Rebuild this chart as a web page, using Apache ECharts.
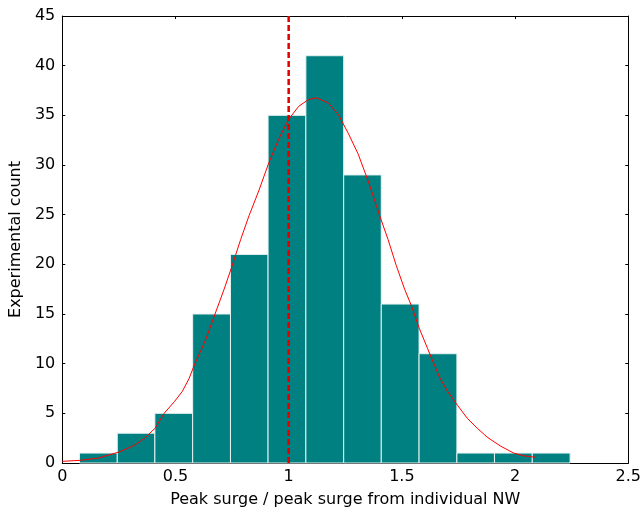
<!DOCTYPE html>
<html>
<head>
<meta charset="utf-8">
<script src="https://cdn.jsdelivr.net/npm/echarts@6/dist/echarts.min.js"></script>
<style>html,body{margin:0;padding:0;background:#fff;}#c{width:644px;height:513px;}</style>
</head>
<body>
<div id="c"></div>
<script>
// Histogram bin edges (ratio) and counts
var binEdges = [0.076, 0.243, 0.409, 0.576, 0.743, 0.909, 1.076, 1.243, 1.409, 1.576, 1.743, 1.909, 2.076, 2.243];
var binCounts = [1, 3, 5, 15, 21, 35, 41, 29, 16, 11, 1, 1, 1];
// Fitted distribution curve [x, count]
var fitX = [0, 0.08, 0.16, 0.25, 0.32, 0.364, 0.41, 0.45, 0.496, 0.53, 0.56, 0.583, 0.635, 0.678, 0.715, 0.751, 0.788, 0.825, 0.868, 0.912, 0.956, 1.0, 1.044, 1.088, 1.124, 1.175, 1.219, 1.263, 1.307, 1.351, 1.402, 1.439, 1.475, 1.512, 1.541, 1.578, 1.614, 1.665, 1.702, 1.746, 1.789, 1.833, 1.877, 1.936, 1.994, 2.038, 2.089];
var fitY = [0.17, 0.27, 0.5, 1.1, 1.8, 2.5, 3.5, 5.0, 6.2, 7.2, 8.5, 9.85, 12.5, 15.2, 17.5, 19.9, 22.5, 24.9, 27.4, 30.2, 32.6, 34.6, 35.9, 36.6, 36.75, 36.25, 35.1, 33.2, 31.1, 28.4, 24.9, 22.5, 19.9, 17.5, 15.9, 13.5, 11.5, 8.7, 7.2, 5.8, 4.5, 3.5, 2.6, 1.7, 1.0, 0.73, 0.57];
// Reference line
var refX = 1;
var xTicks = [0, 0.5, 1, 1.5, 2, 2.5];
var yTicks = [0, 5, 10, 15, 20, 25, 30, 35, 40, 45];

var histData = binCounts.map(function (c, i) { return [binEdges[i], binEdges[i + 1], c]; });
var fitData = fitX.map(function (x, i) { return [x, fitY[i]]; });

var FONT = 'DejaVu Sans';
var chart = echarts.init(document.getElementById('c'), null, { renderer: 'canvas' });
var axisCommon = {
  type: 'value',
  axisLine: { show: true, onZero: false, lineStyle: { color: '#000', width: 1 } },
  axisTick: { show: true, inside: true, length: 3, lineStyle: { color: '#000' } },
  splitLine: { show: false }
};
chart.setOption({
  animation: false,
  backgroundColor: '#fff',
  grid: { left: 62, top: 16, width: 570, height: 449, containLabel: false },
  xAxis: [
    Object.assign({}, axisCommon, {
      min: 0, max: 2.5, interval: 0.5, position: 'bottom',
      axisLabel: { color: '#000', fontFamily: FONT, fontSize: 16, margin: 6 },
      name: 'Peak surge / peak surge from individual NW',
      nameLocation: 'middle', nameGap: 29,
      nameTextStyle: { color: '#000', fontFamily: FONT, fontSize: 16 }
    }),
    Object.assign({}, axisCommon, {
      min: 0, max: 2.5, interval: 0.5, position: 'top',
      axisLabel: { show: false }
    })
  ],
  yAxis: [
    Object.assign({}, axisCommon, {
      min: 0, max: 45, interval: 5, position: 'left',
      axisLabel: { color: '#000', fontFamily: FONT, fontSize: 16, margin: 7 },
      name: 'Experimental count',
      nameLocation: 'middle', nameGap: 34,
      nameTextStyle: { color: '#000', fontFamily: FONT, fontSize: 16 }
    }),
    Object.assign({}, axisCommon, {
      min: 0, max: 45, interval: 5, position: 'right',
      axisLabel: { show: false }
    })
  ],
  series: [
    {
      type: 'custom',
      xAxisIndex: 0, yAxisIndex: 0,
      data: histData,
      encode: { x: [0, 1], y: 2 },
      renderItem: function (params, api) {
        var p0 = api.coord([api.value(0), api.value(2)]);
        var p1 = api.coord([api.value(1), 0]);
        return {
          type: 'rect',
          shape: { x: p0[0], y: p0[1], width: p1[0] - p0[0], height: p1[1] - p0[1] },
          style: { fill: '#008080', stroke: '#e6f2f2', lineWidth: 1 }
        };
      },
      z: 2
    },
    {
      type: 'line',
      data: fitData,
      showSymbol: false,
      smooth: false,
      lineStyle: { color: '#ff0000', width: 1 },
      z: 3
    },
    {
      type: 'line',
      data: [[refX, 0], [refX, 45]],
      showSymbol: false,
      lineStyle: { color: '#e00000', width: 2.5, type: [6, 3] },
      z: 4
    }
  ]
});
</script>
</body>
</html>
